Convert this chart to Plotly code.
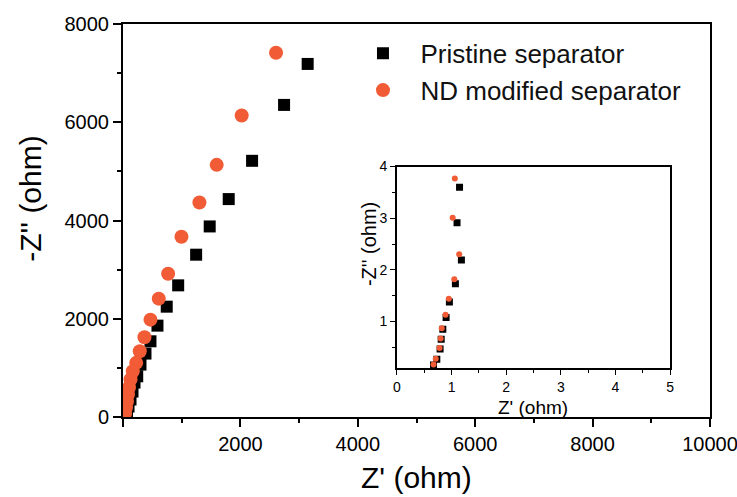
import plotly.graph_objects as go

# ---- main plot data (ohm) ----
pristine_x = [3146, 2744, 2199, 1801, 1477, 1246, 940, 745, 587, 468, 383, 298, 242, 196, 162, 128, 94, 68, 51]
pristine_y = [7187, 6353, 5215, 4436, 3879, 3304, 2680, 2246, 1860, 1541, 1291, 1067, 829, 701, 518, 356, 213, 91, 30]
nd_x = [2607, 2022, 1596, 1302, 996, 769, 609, 468, 366, 286, 225, 167, 128, 102, 85, 68, 51, 34]
nd_y = [7416, 6136, 5133, 4367, 3670, 2917, 2409, 1982, 1622, 1338, 1102, 931, 762, 600, 457, 315, 193, 71]

# ---- inset data (ohm) ----
in_pristine_x = [1.146, 1.10, 1.18, 1.07, 0.96, 0.90, 0.84, 0.81, 0.79, 0.73, 0.67]
in_pristine_y = [3.60, 2.91, 2.19, 1.73, 1.38, 1.08, 0.85, 0.66, 0.47, 0.27, 0.16]
in_nd_x = [1.06, 1.02, 1.14, 1.05, 0.95, 0.89, 0.82, 0.80, 0.78, 0.71, 0.67]
in_nd_y = [3.77, 3.01, 2.30, 1.82, 1.44, 1.13, 0.87, 0.67, 0.49, 0.28, 0.17]

series_names = ["Pristine separator", "ND modified separator"]
main_xticks = [0, 2000, 4000, 6000, 8000, 10000]
main_xticktext = ["", "2000", "4000", "6000", "8000", "10000"]
main_yticks = [0, 2000, 4000, 6000, 8000]
inset_xticks = [0, 1, 2, 3, 4, 5]
inset_yticks = [1, 2, 3, 4]

BLACK = "#000000"
ORANGE = "#F15B35"
FONT = "Arial, Liberation Sans, sans-serif"

fig = go.Figure()
fig.add_trace(go.Scatter(x=pristine_x, y=pristine_y, mode="markers", name=series_names[0],
                         marker=dict(symbol="square", size=12, color=BLACK),
                         xaxis="x", yaxis="y"))
fig.add_trace(go.Scatter(x=nd_x, y=nd_y, mode="markers", name=series_names[1],
                         marker=dict(symbol="circle", size=14, color=ORANGE),
                         xaxis="x", yaxis="y"))
fig.add_trace(go.Scatter(x=in_pristine_x, y=in_pristine_y, mode="markers", showlegend=False,
                         marker=dict(symbol="square", size=7, color=BLACK),
                         xaxis="x2", yaxis="y2"))
fig.add_trace(go.Scatter(x=in_nd_x, y=in_nd_y, mode="markers", showlegend=False,
                         marker=dict(symbol="circle", size=6, color=ORANGE),
                         xaxis="x2", yaxis="y2"))

axis_common = dict(showgrid=False, zeroline=False, showline=True, linecolor="black",
                   mirror=True, ticks="outside", tickcolor="black",
                   ticklabeloverflow="allow", automargin=False)

fig.update_layout(
    width=737, height=497,
    margin=dict(l=122.5, r=27, t=24, b=79.5, autoexpand=False),
    paper_bgcolor="white", plot_bgcolor="white",
    font=dict(family=FONT, color="black"),
    showlegend=True,
    legend=dict(x=0.379, y=0.985, xanchor="left", yanchor="top", itemwidth=65,
                font=dict(size=26, family=FONT, color="#111111"),
                bgcolor="rgba(0,0,0,0)", borderwidth=0, tracegroupgap=0),
    xaxis=dict(domain=[0, 1], range=[0, 10000], tickvals=main_xticks, ticktext=main_xticktext,
               ticklen=8, tickwidth=2, linewidth=2, tickfont=dict(size=20),
               minor=dict(dtick=1000, ticklen=4, tickwidth=1.5, ticks="outside", tickcolor="black"),
               **axis_common),
    yaxis=dict(domain=[0, 1], range=[0, 8000], tickvals=main_yticks,
               ticklen=8, tickwidth=2, linewidth=2, tickfont=dict(size=20),
               minor=dict(dtick=1000, ticklen=4, tickwidth=1.5, ticks="outside", tickcolor="black"),
               **axis_common),
    xaxis2=dict(domain=[0.4667, 0.9319], anchor="y2", range=[0, 5], tickvals=inset_xticks,
                ticklen=5, tickwidth=1.2, linewidth=1.5, tickfont=dict(size=14),
                minor=dict(dtick=0.5, ticklen=3, tickwidth=1, ticks="outside", tickcolor="black"),
                **axis_common),
    yaxis2=dict(domain=[0.1245, 0.6374], anchor="x2", range=[0.1, 4], tickvals=inset_yticks,
                ticklen=5, tickwidth=1.2, linewidth=1.5, tickfont=dict(size=14),
                minor=dict(tickvals=[0.5, 1.5, 2.5, 3.5], ticklen=3, tickwidth=1, ticks="outside", tickcolor="black"),
                **axis_common),
    annotations=[
        dict(text="-Z'' (ohm)", xref="paper", yref="paper", x=-0.157, y=0.555,
             textangle=-90, showarrow=False, font=dict(size=30, family=FONT),
             xanchor="center", yanchor="middle"),
        dict(text="Z' (ohm)", xref="paper", yref="paper", x=0.5, y=-0.1537,
             showarrow=False, font=dict(size=30, family=FONT),
             xanchor="center", yanchor="middle"),
        dict(text="Z' (ohm)", xref="paper", yref="paper", x=0.6987, y=0.024,
             showarrow=False, font=dict(size=19, family=FONT),
             xanchor="center", yanchor="middle"),
        dict(text="-Z'' (ohm)", xref="paper", yref="paper", x=0.4180, y=0.441,
             textangle=-90, showarrow=False, font=dict(size=20, family=FONT),
             xanchor="center", yanchor="middle"),
    ],
)

fig.write_html("out.html", config={"displayModeBar": False},
               post_script="document.body.style.margin='0';")
